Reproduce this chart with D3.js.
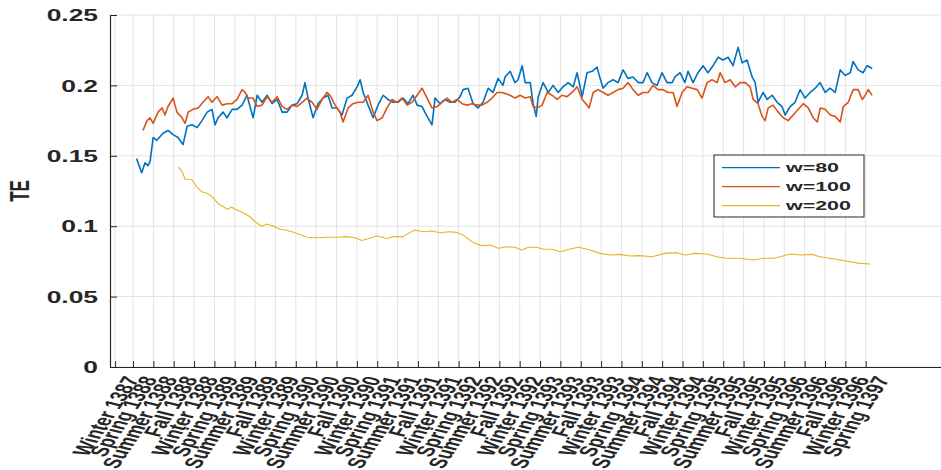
<!DOCTYPE html>
<html>
<head>
<meta charset="utf-8">
<script src="https://cdn.jsdelivr.net/npm/d3@7"></script>
<style>
  body { margin: 0; background: #fff; }
  text { font-family: "Liberation Sans", Arial, Helvetica, sans-serif; font-weight: bold; fill: #262626; }
</style>
</head>
<body>
<div id="chart"></div>
<script>
// quarter labels on the x axis (Persian calendar)
const xTickLabels = ['Winter 1387','Spring 1388','Summer 1388','Fall 1388','Winter 1388','Spring 1389','Summer 1389','Fall 1389',
  'Winter 1389','Spring 1390','Summer 1390','Fall 1390','Winter 1390','Spring 1391','Summer 1391','Fall 1391',
  'Winter 1391','Spring 1392','Summer 1392','Fall 1392','Winter 1392','Spring 1393','Summer 1393','Fall 1393',
  'Winter 1393','Spring 1394','Summer 1394','Fall 1394','Winter 1394','Spring 1395','Summer 1395','Fall 1395',
  'Winter 1395','Spring 1396','Summer 1396','Fall 1396','Winter 1396','Spring 1397'];
// tick position of each label, in quarters
const xTickValues = [0.12, 1, 2, 3, 4, 5, 6, 7, 8, 9, 10, 11, 12, 13, 14, 15, 16, 17, 18, 19,
  20, 21, 22, 23, 24, 25, 26, 27, 28, 29, 30, 31, 32, 33, 34, 35, 36, 37];
const yTicks = [0, 0.05, 0.1, 0.15, 0.2, 0.25];
const yTickLabels = ['0', '0.05', '0.1', '0.15', '0.2', '0.25'];

const seriesNames = ['w=80', 'w=100', 'w=200'];
const seriesColors = ['#0072BD', '#D95319', '#EDB120'];

// [quarter, TE]
const te80 = [[1.18,.148],[1.30,.143],[1.43,.138],[1.59,.145],[1.74,.143],[1.84,.146],[1.99,.163],[2.17,.161],[2.48,.166],[2.72,.168],
  [2.97,.165],[3.21,.163],[3.46,.158],[3.66,.171],[3.90,.172],[4.15,.170],[4.39,.175],[4.64,.181],[4.88,.183],[5.03,.172],
  [5.18,.177],[5.43,.181],[5.62,.177],[5.87,.183],[6.11,.183],[6.36,.186],[6.60,.193],[6.75,.185],[6.90,.177],[7.10,.193],
  [7.34,.188],[7.59,.193],[7.83,.187],[8.08,.190],[8.33,.181],[8.57,.181],[8.82,.186],[9.06,.187],[9.31,.193],[9.45,.202],
  [9.60,.191],[9.85,.177],[10.09,.187],[10.34,.191],[10.58,.193],[10.78,.184],[11.03,.184],[11.27,.179],[11.52,.191],[11.76,.193],
  [12.01,.199],[12.16,.204],[12.31,.195],[12.55,.186],[12.80,.177],[13.04,.186],[13.29,.193],[13.53,.190],[13.78,.188],[14.02,.188],
  [14.27,.191],[14.51,.187],[14.76,.193],[14.96,.186],[15.20,.185],[15.45,.178],[15.69,.172],[15.84,.191],[16.09,.187],[16.33,.190],
  [16.58,.188],[16.82,.188],[17.07,.192],[17.22,.197],[17.46,.198],[17.71,.187],[17.95,.184],[18.20,.188],[18.45,.198],[18.69,.195],
  [18.94,.205],[19.18,.200],[19.28,.206],[19.53,.210],[19.77,.202],[19.92,.204],[20.12,.214],[20.27,.202],[20.52,.202],[20.66,.187],
  [20.81,.178],[20.91,.192],[21.15,.202],[21.40,.195],[21.64,.200],[21.89,.195],[22.13,.199],[22.38,.202],[22.63,.199],[22.82,.209],
  [23.07,.192],[23.31,.209],[23.56,.210],[23.80,.213],[23.95,.205],[24.10,.198],[24.34,.202],[24.59,.204],[24.83,.202],[25.08,.211],
  [25.32,.205],[25.57,.206],[25.82,.202],[26.06,.202],[26.26,.209],[26.50,.202],[26.75,.200],[26.99,.209],[27.24,.202],[27.49,.202],
  [27.63,.206],[27.88,.209],[28.12,.202],[28.27,.210],[28.52,.202],[28.76,.209],[29.01,.214],[29.25,.209],[29.50,.214],[29.75,.220],
  [29.99,.218],[30.24,.220],[30.48,.214],[30.73,.227],[30.93,.216],[31.17,.218],[31.42,.206],[31.57,.202],[31.71,.188],[31.96,.195],
  [32.16,.190],[32.40,.193],[32.65,.188],[32.89,.185],[33.04,.179],[33.29,.185],[33.53,.188],[33.78,.197],[34.02,.191],[34.27,.195],
  [34.52,.198],[34.76,.202],[35.01,.195],[35.25,.198],[35.50,.195],[35.75,.211],[35.99,.207],[36.24,.209],[36.38,.217],[36.63,.211],
  [36.87,.209],[37.07,.214],[37.32,.212]];

const te100 = [[1.49,.168],[1.69,.175],[1.84,.177],[1.99,.173],[2.23,.181],[2.43,.184],[2.57,.179],[2.72,.185],[2.97,.191],[3.16,.181],
  [3.41,.177],[3.56,.173],[3.71,.181],[3.95,.183],[4.20,.184],[4.44,.188],[4.69,.192],[4.88,.188],[5.13,.192],[5.38,.186],
  [5.62,.187],[5.87,.187],[6.11,.190],[6.36,.197],[6.51,.195],[6.65,.191],[6.90,.191],[7.10,.185],[7.34,.186],[7.59,.192],
  [7.83,.188],[8.08,.192],[8.33,.185],[8.57,.183],[8.82,.186],[9.06,.185],[9.31,.188],[9.55,.191],[9.80,.188],[10.04,.183],
  [10.29,.190],[10.53,.195],[10.68,.193],[10.93,.186],[11.17,.181],[11.32,.174],[11.57,.184],[11.81,.187],[12.06,.188],[12.31,.188],
  [12.55,.193],[12.80,.181],[12.99,.175],[13.24,.177],[13.48,.184],[13.73,.190],[13.97,.188],[14.22,.191],[14.47,.186],[14.71,.188],
  [14.96,.193],[15.20,.198],[15.45,.191],[15.69,.184],[15.94,.185],[16.18,.188],[16.43,.191],[16.68,.188],[16.92,.190],[17.17,.187],
  [17.41,.186],[17.66,.187],[17.90,.186],[18.15,.186],[18.40,.188],[18.64,.191],[18.89,.195],[19.13,.195],[19.53,.193],[19.77,.191],
  [20.02,.193],[20.27,.191],[20.52,.192],[20.66,.185],[20.86,.184],[21.10,.186],[21.35,.195],[21.59,.193],[21.84,.190],[22.08,.193],
  [22.33,.192],[22.57,.195],[22.82,.199],[23.07,.190],[23.31,.186],[23.41,.184],[23.61,.195],[23.85,.197],[24.10,.195],[24.34,.193],
  [24.59,.195],[24.83,.197],[25.08,.198],[25.32,.202],[25.57,.197],[25.82,.193],[26.06,.195],[26.31,.195],[26.55,.200],[26.80,.197],
  [27.04,.197],[27.29,.195],[27.54,.195],[27.73,.185],[27.98,.195],[28.22,.199],[28.47,.198],[28.72,.197],[28.96,.191],[29.21,.202],
  [29.45,.204],[29.70,.202],[29.85,.209],[30.09,.202],[30.34,.204],[30.59,.199],[30.83,.202],[31.08,.202],[31.32,.199],[31.47,.190],
  [31.71,.187],[31.91,.178],[32.06,.175],[32.21,.184],[32.45,.186],[32.70,.181],[32.95,.177],[33.19,.175],[33.44,.179],[33.69,.183],
  [33.93,.187],[34.18,.184],[34.42,.177],[34.62,.174],[34.77,.184],[35.01,.183],[35.26,.179],[35.50,.178],[35.75,.174],[35.90,.185],
  [36.14,.188],[36.39,.197],[36.63,.197],[36.83,.190],[36.98,.193],[37.12,.197],[37.32,.193]];

const te200 = [[3.23,.142],[3.40,.139],[3.56,.1335],[3.89,.133],[4.13,.128],[4.38,.1245],[4.70,.123],[4.95,.120],[5.19,.116],[5.44,.114],
  [5.61,.112],[5.85,.1134],[6.10,.1115],[6.42,.1096],[6.75,.1067],[7.00,.1032],[7.33,.100],[7.57,.1016],[7.90,.100],[8.23,.0978],
  [8.47,.0973],[8.80,.0961],[9.13,.0945],[9.54,.0921],[10.03,.0918],[10.52,.0921],[11.01,.0921],[11.50,.0926],[11.91,.0918],[12.24,.0899],
  [12.57,.0913],[12.98,.0930],[13.47,.0913],[13.79,.0926],[14.29,.0926],[14.53,.0949],[14.86,.0973],[15.27,.0961],[15.68,.0966],[16.09,.0954],
  [16.50,.0961],[16.91,.0956],[17.23,.0935],[17.72,.0883],[18.14,.0862],[18.55,.0866],[18.95,.0843],[19.37,.0854],[19.77,.0850],[20.10,.0831],
  [20.43,.0850],[20.84,.0850],[21.16,.0836],[21.58,.0836],[21.99,.0819],[22.48,.0838],[22.88,.0850],[23.46,.0831],[23.95,.0807],[24.44,.0795],
  [24.93,.0800],[25.42,.0788],[25.91,.0791],[26.49,.0783],[27.14,.0807],[27.72,.0812],[28.13,.0795],[28.62,.0807],[29.19,.0803],[29.69,.0783],
  [30.18,.0772],[30.83,.0772],[31.48,.0760],[31.98,.0772],[32.47,.0772],[32.80,.0783],[33.29,.0803],[33.78,.0795],[34.35,.0800],[34.76,.0783],
  [35.25,.0772],[35.74,.0760],[36.23,.0748],[36.73,.0736],[37.22,.0732]];

const allSeries = [te80, te100, te200];

const width = 941;
const height = 470;
const margin = {top: 15, right: 0, bottom: 103, left: 110};
const stretch = 1.65; // text in the original picture is drawn wide

const svg = d3.select('#chart')
  .append('svg')
    .attr('width', width)
    .attr('height', height);

const xScale = d3.scaleLinear()
  .domain([-0.13, 40.7])
  .range([margin.left, width - margin.right]);
const yScale = d3.scaleLinear()
  .domain([0, 0.25])
  .range([height - margin.bottom, margin.top]);

// grid
const grid = svg.append('g').attr('stroke', '#e3e3e3').attr('stroke-width', 1);
grid.selectAll('.vgrid')
  .data(xTickValues)
  .join('line')
    .attr('x1', d => xScale(d)).attr('x2', d => xScale(d))
    .attr('y1', yScale(0)).attr('y2', yScale(0.25));
grid.selectAll('.hgrid')
  .data(yTicks)
  .join('line')
    .attr('x1', margin.left).attr('x2', width)
    .attr('y1', d => yScale(d)).attr('y2', d => yScale(d));

// lines
const line = d3.line()
  .x(d => xScale(d[0]))
  .y(d => yScale(d[1]));

// draw yellow first, then orange, blue on top? keep original order: blue, orange, yellow
allSeries.forEach((s, i) => {
  svg.append('path')
    .datum(s)
    .attr('fill', 'none')
    .attr('stroke', seriesColors[i])
    .attr('stroke-width', i === 2 ? 1.1 : 1.6)
    .attr('stroke-linejoin', 'round')
    .attr('d', line);
});

// y axis
const yAxis = svg.append('g')
  .attr('transform', `translate(${margin.left},0)`)
  .call(d3.axisLeft(yScale).tickValues(yTicks).tickSize(-7).tickSizeOuter(0)
    .tickFormat((d, i) => yTickLabels[i]));
yAxis.select('.domain').attr('stroke', '#262626').attr('stroke-width', 1.2);
yAxis.selectAll('line').attr('stroke', '#262626');
yAxis.selectAll('text')
  .attr('x', 0)
  .attr('dy', '0.36em')
  .attr('transform', `translate(-12,0) scale(${stretch},1)`)
  .style('font-size', '16px')
  .style('font-family', '"Liberation Sans", Arial, sans-serif')
  .style('font-weight', 'bold')
  .attr('fill', '#262626');

// x axis
const xAxis = svg.append('g')
  .attr('transform', `translate(0,${height - margin.bottom})`)
  .call(d3.axisBottom(xScale).tickValues(xTickValues).tickSize(-6).tickSizeOuter(0)
    .tickFormat((d, i) => xTickLabels[i]));
xAxis.select('.domain').attr('stroke', '#262626').attr('stroke-width', 1.2);
xAxis.selectAll('line').attr('stroke', '#262626');
xAxis.selectAll('text')
  .attr('y', 0)
  .attr('dy', '0.35em')
  .attr('text-anchor', 'end')
  .attr('transform', `translate(16,10) scale(${stretch},1) rotate(-68)`)
  .style('font-size', '15px')
  .style('font-family', '"Liberation Sans", Arial, sans-serif')
  .style('font-weight', 'bold')
  .attr('fill', '#262626');

// y label
svg.append('text')
  .attr('text-anchor', 'middle')
  .attr('transform', `translate(29,191) scale(${stretch},1) rotate(-90)`)
  .style('font-size', '17px')
  .text('TE');

// legend
const legend = svg.append('g').attr('transform', 'translate(714,155)');
legend.append('rect')
  .attr('width', 150).attr('height', 62)
  .attr('fill', '#fff')
  .attr('stroke', '#262626')
  .attr('stroke-width', 1);
const items = legend.selectAll('.item')
  .data(seriesNames)
  .join('g')
    .attr('transform', (d, i) => `translate(0,${12.7 + i * 19})`);
items.append('line')
  .attr('x1', 8).attr('x2', 66)
  .attr('stroke', (d, i) => seriesColors[i])
  .attr('stroke-width', 1.2);
items.append('text')
  .attr('transform', `translate(72,0) scale(${stretch},1)`)
  .attr('dy', '0.36em')
  .style('font-size', '13px')
  .text(d => d);
</script>
</body>
</html>
